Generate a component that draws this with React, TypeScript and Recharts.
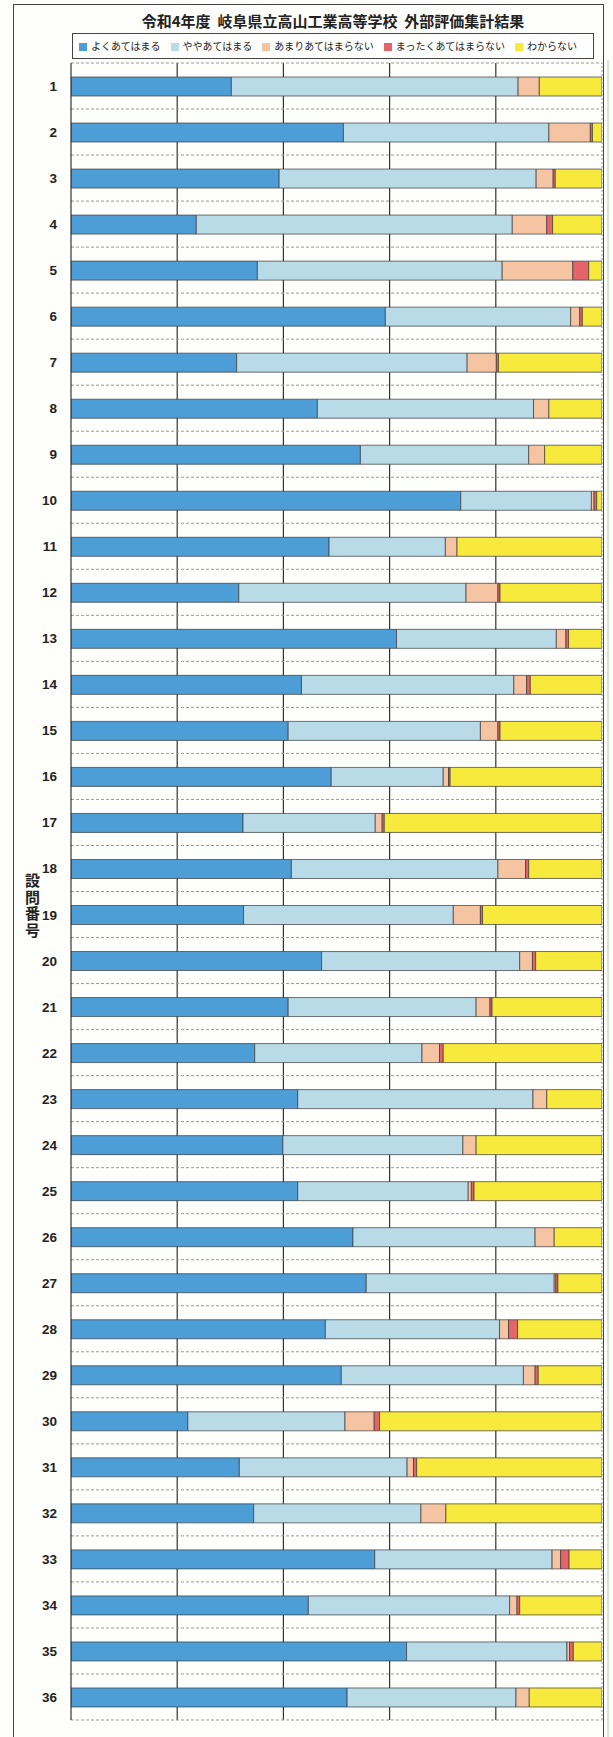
import React from "react";
import {
  BarChart, Bar, XAxis, YAxis, CartesianGrid, Legend, ReferenceLine,
} from "recharts";

// 設問番号 1〜36
const questions = Array.from({ length: 36 }, (_, i) => String(i + 1));

// 回答割合 (%)
const veryTrue = [
  30.2, 51.3, 39.2, 23.6, 35.1, 59.2, 31.2, 46.4, 54.5, 73.4, 48.6, 31.6,
  61.3, 43.4, 40.9, 49.0, 32.4, 41.5, 32.5, 47.2, 40.9, 34.6, 42.7, 39.9,
  42.7, 53.1, 55.6, 47.9, 50.9, 22.0, 31.7, 34.4, 57.2, 44.7, 63.2, 52.0,
];
const somewhatTrue = [
  54.0, 38.7, 48.4, 59.5, 46.1, 34.9, 43.4, 40.7, 31.7, 24.6, 21.9, 42.8,
  30.1, 40.0, 36.2, 21.1, 24.9, 38.9, 39.5, 37.3, 35.4, 31.5, 44.3, 33.9,
  32.1, 34.3, 35.4, 32.8, 34.3, 29.6, 31.6, 31.5, 33.4, 37.9, 30.2, 31.8,
];
const notReally = [
  4.0, 7.8, 3.2, 6.5, 13.3, 1.7, 5.5, 2.9, 3.0, 0.5, 2.2, 6.0,
  1.8, 2.4, 3.3, 1.0, 1.3, 5.2, 5.1, 2.4, 2.6, 3.3, 2.6, 2.5,
  0.6, 3.6, 0.3, 1.7, 2.2, 5.5, 1.2, 4.7, 1.6, 1.4, 0.5, 2.5,
];
const notAtAll = [
  0, 0.4, 0.4, 1.1, 3.0, 0.5, 0.4, 0, 0, 0.5, 0, 0.4,
  0.5, 0.7, 0.4, 0.3, 0.4, 0.6, 0.4, 0.6, 0.4, 0.7, 0, 0,
  0.5, 0, 0.4, 1.7, 0.6, 1.0, 0.6, 0, 1.6, 0.5, 0.7, 0,
];
const unknown = [
  11.8, 1.8, 8.8, 9.3, 2.5, 3.7, 19.5, 10.0, 10.8, 1.0, 27.3, 19.2,
  6.3, 13.5, 19.2, 28.6, 41.0, 13.8, 22.5, 12.5, 20.7, 29.9, 10.4, 23.7,
  24.1, 9.0, 8.3, 15.9, 12.0, 41.9, 34.9, 29.4, 6.2, 15.5, 5.4, 13.7,
];

const gridTicks = [20, 40, 60, 80];

const series = [
  { key: "veryTrue", name: "よくあてはまる", color: "#4d9ed6" },
  { key: "somewhatTrue", name: "ややあてはまる", color: "#b9dbe8" },
  { key: "notReally", name: "あまりあてはまらない", color: "#f5c4a2" },
  { key: "notAtAll", name: "まったくあてはまらない", color: "#e4646a" },
  { key: "unknown", name: "わからない", color: "#f8ea3c" },
];

const data = questions.map((q, i) => ({
  q,
  veryTrue: veryTrue[i],
  somewhatTrue: somewhatTrue[i],
  notReally: notReally[i],
  notAtAll: notAtAll[i],
  unknown: unknown[i],
}));

const jp = '"Noto Sans CJK JP", "Noto Sans", sans-serif';

const QuestionTick = (props: any) => (
  <text
    x={props.x}
    y={props.y}
    dy={5}
    textAnchor="end"
    fontSize={13.5}
    fontWeight="bold"
    fill="#222"
    fontFamily='"Liberation Sans", Arial, sans-serif'
  >
    {props.payload.value}
  </text>
);

// keep legend in series order
const legendOrder = (item: any) => series.findIndex((s) => s.name === item.value);

export default function App() {
  return (
    <div
      style={{
        position: "absolute", left: 0, top: 0, width: 613, height: 1737,
        background: "#fefefc", overflow: "hidden", fontFamily: jp,
      }}
    >
      {/* outer frame */}
      <div
        style={{
          position: "absolute", left: 13, top: 4, width: 591, height: 1750,
          border: "1px solid #444", boxSizing: "border-box",
        }}
      />
      <div style={{ position: "absolute", left: 607, top: 60, width: 2, height: 1680, background: "#d5e8cc" }} />

      <div
        style={{
          position: "absolute", left: 13, width: 640, top: 10, textAlign: "center",
          fontSize: 15, fontWeight: "bold", color: "#222", whiteSpace: "pre",
        }}
      >
        令和4年度  岐阜県立高山工業高等学校  外部評価集計結果
      </div>

      <div
        style={{
          position: "absolute", left: 24, top: 873,
          writingMode: "vertical-rl", textOrientation: "upright", whiteSpace: "nowrap",
          fontSize: 15, lineHeight: "17px", letterSpacing: 1.5, fontWeight: "bold", color: "#222",
        }}
      >
        設問番号
      </div>

      <div style={{ position: "absolute", left: 0, top: 0 }}>
        <BarChart
          width={613}
          height={1737}
          data={data}
          layout="vertical"
          margin={{ top: 63, right: 11, bottom: 17, left: 11 }}
          barSize={19}
        >
          <CartesianGrid
            horizontal={false}
            stroke="#333"
            strokeWidth={1.2}
            verticalCoordinatesGenerator={({ offset }: any) =>
              gridTicks.map((t) => offset.left + (offset.width * t) / 100)
            }
          />
          <CartesianGrid
            vertical={false}
            stroke="#999"
            strokeDasharray="3 2"
            horizontalCoordinatesGenerator={({ offset }: any) =>
              Array.from(
                { length: questions.length + 1 },
                (_, i) => offset.top + (offset.height * i) / questions.length
              )
            }
          />
          <XAxis type="number" domain={[0, 100]} ticks={gridTicks} hide allowDataOverflow />
          <YAxis
            type="category"
            dataKey="q"
            width={60}
            tickLine={false}
            tickSize={0}
            tickMargin={14}
            axisLine={{ stroke: "#333", strokeWidth: 1.2 }}
            tick={QuestionTick}
            interval={0}
          />
          <ReferenceLine x={100} stroke="#999" strokeDasharray="2 2" />
          {series.map((s) => (
            <Bar
              key={s.key}
              dataKey={s.key}
              name={s.name}
              stackId="a"
              fill={s.color}
              stroke="#3a3a3a"
              strokeWidth={0.7}
              legendType="square"
              isAnimationActive={false}
            />
          ))}
          <Legend
            layout="horizontal"
            align="center"
            verticalAlign="middle"
            iconSize={8}
            itemSorter={legendOrder}
            formatter={(value: string) => <span style={{ color: "#222" }}>{value}</span>}
            wrapperStyle={{
              left: 72, top: 33, width: 522, height: 26,
              border: "1px solid #444", boxSizing: "border-box", background: "#fff",
              fontSize: 10, lineHeight: "24px", fontFamily: jp,
            }}
          />
        </BarChart>
      </div>
    </div>
  );
}
